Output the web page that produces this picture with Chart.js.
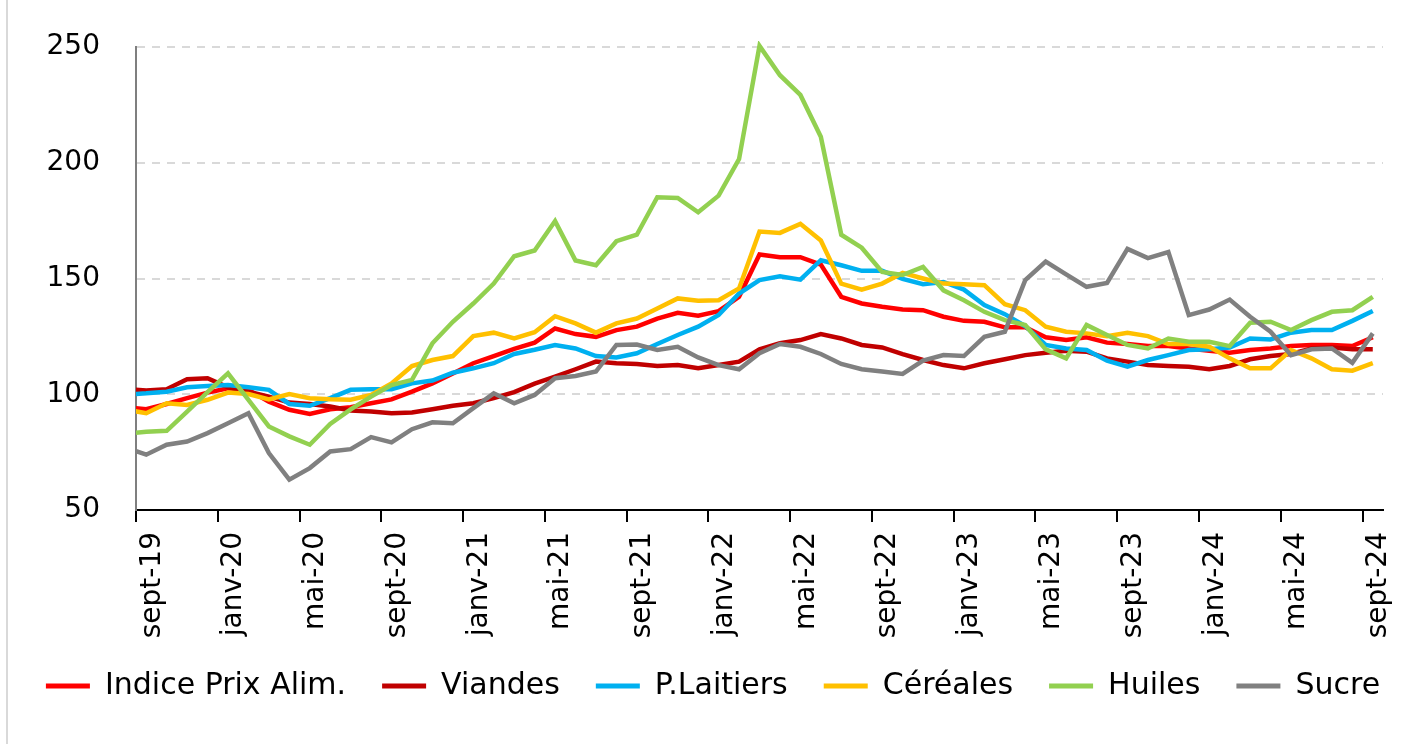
<!DOCTYPE html>
<html lang="fr">
<head>
  <meta charset="UTF-8">
  <title>Prix alimentaires</title>
  <script src="https://cdn.jsdelivr.net/npm/chart.js"></script>
  <style>
    body { margin: 0; background: #fff; }
    #wrap { position: relative; width: 1426px; height: 744px; }
    #wrap canvas { display: block; }
    #frame { position: absolute; left: 6px; top: 0; bottom: 0; border-left: 2px solid #d9d9d9; }
  </style>
</head>
<body>
  <div id="wrap">
    <canvas id="prixChart" width="1426" height="744"></canvas>
    <div id="frame"></div>
  </div>

  <script>
    // month labels, août-19 .. sept-24 (août-19 sits left of the axis and gets clipped)
    const monthNames = ['janv', 'févr', 'mars', 'avr', 'mai', 'juin', 'juil', 'août', 'sept', 'oct', 'nov', 'déc'];
    const labels = [];
    for (let y = 2019; y <= 2024; y++) {
      for (let m = 0; m < 12; m++) {
        if (y === 2019 && m < 7) continue;
        if (y === 2024 && m > 8) continue;
        labels.push(monthNames[m] + '-' + String(y).slice(2));
      }
    }

    const indice = [94.5, 93.5, 95.8, 98.3, 100.7, 102.6, 101.9, 96.8, 93.3, 91.5, 93.5, 94.4, 96.1, 97.8, 101.1, 104.7, 109.0, 113.4, 116.5, 119.6, 122.3, 128.4, 126.0, 124.8, 127.7, 129.2, 132.7, 135.2, 133.9, 135.9, 142.1, 160.4, 159.2, 159.2, 156.0, 142.1, 139.2, 137.8, 136.6, 136.3, 133.5, 131.7, 131.3, 128.9, 128.9, 124.6, 123.4, 124.6, 122.3, 121.7, 120.8, 120.8, 119.8, 118.8, 117.9, 119.1, 119.8, 120.8, 121.3, 121.3, 120.8, 124.6];
    const viandes = [102.2, 101.6, 102.2, 106.5, 106.9, 103.0, 101.1, 99.0, 96.4, 95.8, 94.7, 93.0, 92.5, 91.8, 92.1, 93.5, 95.0, 96.1, 98.3, 100.9, 104.6, 107.6, 110.8, 114.1, 113.4, 113.1, 112.2, 112.6, 111.2, 112.6, 114.1, 119.4, 122.0, 123.4, 126.0, 124.1, 121.3, 120.2, 117.3, 114.8, 112.6, 111.2, 113.4, 115.1, 116.9, 117.9, 118.8, 118.4, 115.5, 114.1, 112.6, 112.2, 111.9, 110.8, 112.2, 115.1, 116.5, 117.4, 119.8, 120.2, 119.4, 119.4];
    const laitiers = [99.9, 100.4, 101.1, 103.0, 103.6, 104.0, 103.0, 101.9, 95.8, 95.0, 98.3, 101.9, 102.2, 102.2, 104.7, 105.9, 109.3, 111.2, 113.4, 117.4, 119.2, 121.3, 119.8, 116.5, 115.9, 117.7, 121.7, 125.6, 129.2, 134.2, 143.5, 149.3, 151.0, 149.5, 157.9, 155.7, 153.3, 153.3, 149.8, 147.5, 148.5, 145.2, 138.5, 134.6, 129.4, 121.3, 119.8, 119.1, 114.5, 111.9, 114.8, 116.9, 119.1, 119.4, 120.2, 124.1, 123.7, 126.6, 127.7, 127.7, 131.7, 136.0];
    const cereales = [93.4, 91.8, 96.1, 95.4, 97.6, 100.7, 100.1, 97.8, 100.1, 98.3, 97.8, 97.6, 99.7, 104.7, 112.2, 114.8, 116.5, 125.1, 126.6, 124.1, 126.8, 133.7, 130.6, 126.6, 130.6, 132.7, 137.0, 141.4, 140.4, 140.6, 145.7, 170.3, 169.7, 173.6, 166.4, 147.8, 145.2, 147.8, 152.4, 150.0, 147.8, 147.5, 147.1, 138.9, 136.3, 129.2, 127.0, 126.3, 125.1, 126.6, 125.1, 121.7, 121.7, 120.5, 115.5, 111.2, 111.2, 119.1, 115.5, 110.8, 110.2, 113.4];
    const huiles = [82.9, 83.8, 84.2, 92.5, 100.9, 109.0, 97.6, 86.1, 81.8, 78.2, 87.2, 93.5, 99.0, 104.0, 106.2, 122.0, 131.3, 139.2, 147.8, 159.6, 162.1, 174.8, 157.8, 155.7, 166.1, 168.9, 185.1, 184.8, 178.6, 185.8, 201.6, 250.5, 237.8, 229.3, 211.2, 168.9, 163.3, 152.8, 151.5, 155.0, 144.9, 140.6, 135.6, 132.0, 129.9, 119.4, 115.5, 129.9, 125.6, 121.3, 119.8, 124.1, 122.7, 122.7, 120.8, 130.9, 131.3, 127.7, 132.0, 135.6, 136.3, 142.1];
    const sucre = [76.9, 73.9, 78.2, 79.6, 83.2, 87.5, 91.8, 74.6, 63.1, 68.1, 75.3, 76.3, 81.5, 79.2, 84.9, 87.9, 87.5, 94.0, 100.4, 96.1, 99.7, 106.9, 107.9, 109.8, 121.3, 121.5, 119.1, 120.5, 115.9, 112.6, 110.8, 117.7, 121.7, 120.5, 117.4, 113.1, 110.8, 109.8, 108.8, 114.5, 116.9, 116.5, 124.8, 127.0, 149.3, 157.3, 151.8, 146.4, 148.1, 162.8, 158.8, 161.4, 134.2, 136.6, 140.9, 133.5, 127.0, 116.9, 119.4, 119.8, 113.6, 126.3];

    const seriesNames = ['Indice Prix Alim.', 'Viandes', 'P.Laitiers', 'Céréales', 'Huiles', 'Sucre'];
    const seriesData = [indice, viandes, laitiers, cereales, huiles, sucre];
    const seriesColors = ['#ff0000', '#c00000', '#00b0f0', '#ffc000', '#92d050', '#808080'];

    const yTicks = [50, 100, 150, 200, 250];

    const font = 'DejaVu Sans, sans-serif';
    const clear = 'rgba(0,0,0,0)';

    const datasets = seriesNames.map((name, i) => ({
      label: name,
      data: seriesData[i],
      borderColor: seriesColors[i],
      backgroundColor: seriesColors[i],
      borderWidth: 4.5,
      pointRadius: 0,
      tension: 0,
      order: seriesNames.length - i, // later series drawn on top
      clip: { left: 0, top: 6, right: 6, bottom: 6 }
    }));

    // the rotated month labels need a tall x box, so the legend is nudged up after layout
    const legendLift = {
      id: 'legendLift',
      afterLayout: chart => {
        chart.legend.top -= 10;
        chart.legend.bottom -= 10;
      }
    };

    new Chart(document.getElementById('prixChart'), {
      type: 'line',
      data: { labels: labels, datasets: datasets },
      options: {
        responsive: false,
        animation: false,
        layout: { padding: { left: 0, right: 0, top: 47, bottom: 23 } },
        plugins: {
          tooltip: { enabled: false },
          legend: {
            position: 'bottom',
            labels: {
              boxWidth: 44,
              boxHeight: 5,
              padding: 36,
              color: '#000',
              font: { family: font, size: 30 },
              sort: (a, b) => a.datasetIndex - b.datasetIndex,
              generateLabels: chart =>
                Chart.defaults.plugins.legend.labels.generateLabels(chart)
                  .map(item => ({ ...item, lineWidth: 0 }))
            }
          }
        },
        scales: {
          x: {
            type: 'category',
            min: 'sept-19',
            offset: true,
            grid: {
              offset: true,
              drawOnChartArea: false,
              drawTicks: true,
              tickLength: 12,
              lineWidth: 2,
              color: ctx => (ctx.index % 4 === 0 ? '#000' : clear),
              tickColor: ctx => (ctx.index % 4 === 0 ? '#000' : clear)
            },
            border: { color: '#000', width: 2 },
            ticks: {
              autoSkip: false,
              minRotation: 90,
              maxRotation: 90,
              padding: 10,
              labelOffset: 6,
              color: '#000',
              font: { family: font, size: 28 },
              callback: function (value, index) {
                return index % 4 === 0 ? this.getLabelForValue(value) : '';
              }
            },
            afterFit: scale => { scale.height = 135; }
          },
          y: {
            min: yTicks[0],
            max: yTicks[yTicks.length - 1],
            afterBuildTicks: scale => { scale.ticks = yTicks.map(v => ({ value: v })); },
            grid: {
              drawTicks: true,
              tickLength: 36,
              tickColor: clear,
              color: '#d9d9d9',
              lineWidth: 2
            },
            border: { color: '#7f7f7f', width: 2, dash: [8, 7] },
            ticks: {
              padding: 0,
              color: '#000',
              font: { family: font, size: 28 }
            },
            afterFit: scale => { scale.width = 136; }
          },
          // empty right-hand spacer so the plot stops short of the canvas edge
          // while the legend can still use the full width
          spacer: {
            type: 'linear',
            position: 'right',
            grid: { display: false },
            border: { display: false },
            ticks: { display: false },
            afterFit: scale => { scale.width = 43; }
          }
        }
      },
      plugins: [legendLift]
    });
  </script>
</body>
</html>
